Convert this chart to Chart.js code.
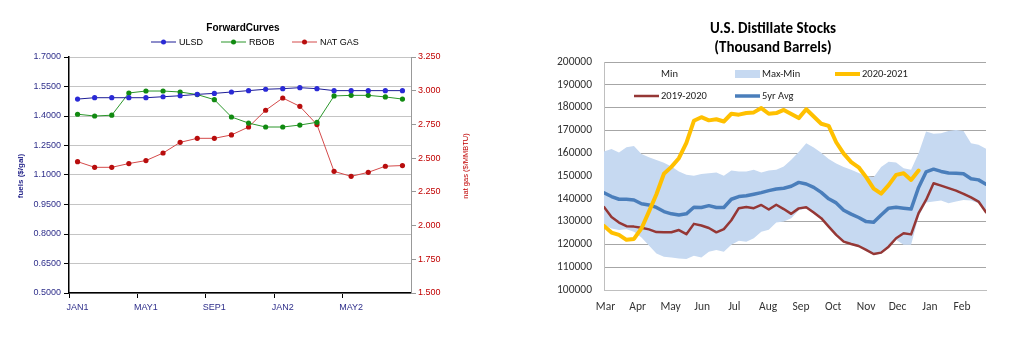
<!DOCTYPE html>
<html>
<head>
<meta charset="utf-8">
<script src="https://cdn.jsdelivr.net/npm/chart.js@4.4.0/dist/chart.umd.min.js"></script>
<style>
  body { margin: 0; background: #fff; }
  .wrap { position: absolute; top: 0; height: 340px; }
  #left { left: 0; width: 500px; }
  #right { left: 540px; width: 474px; }
</style>
</head>
<body>
<div class="wrap" id="left"><canvas id="forward-chart"></canvas></div>
<div class="wrap" id="right"><canvas id="stocks-chart"></canvas></div>
<script>
// forward curves, monthly contracts
const curveMonths = ["JAN1", "FEB1", "MAR1", "APR1", "MAY1", "JUN1", "JUL1", "AUG1", "SEP1", "OCT1",
    "NOV1", "DEC1", "JAN2", "FEB2", "MAR2", "APR2", "MAY2", "JUN2", "JUL2", "AUG2"];
const ulsd = [1.486, 1.493, 1.493, 1.493, 1.493, 1.498, 1.503, 1.510, 1.515, 1.522,
    1.529, 1.536, 1.539, 1.544, 1.539, 1.529, 1.529, 1.529, 1.529, 1.529];
const rbob = [1.409, 1.400, 1.404, 1.517, 1.527, 1.527, 1.522, 1.509, 1.483, 1.395,
    1.364, 1.344, 1.344, 1.354, 1.368, 1.502, 1.505, 1.505, 1.497, 1.486];
const natGas = [2.474, 2.432, 2.432, 2.460, 2.482, 2.538, 2.617, 2.647, 2.647, 2.672,
    2.731, 2.855, 2.946, 2.884, 2.749, 2.402, 2.365, 2.395, 2.440, 2.445];

// distillate stocks, weekly from March (thousand barrels)
const monthLabels = ["Mar", "Apr", "May", "Jun", "Jul", "Aug", "Sep", "Oct", "Nov", "Dec", "Jan", "Feb"];
const monthWeeks = [0.2, 4.5, 8.9, 13.1, 17.4, 21.9, 26.3, 30.6, 35.0, 39.2, 43.5, 47.8];
const stocks2021 = [128100, 125200, 124200, 122000, 122400, 127000, 134400, 142000, 151000, 154000,
    157800, 164500, 174200, 175800, 174400, 174900, 173900, 177300, 176900, 177600,
    177900, 179800, 177300, 177600, 179000, 177200, 175400, 179300, 176100, 172900,
    172000, 164800, 159800, 156100, 153800, 149500, 144500, 142300, 146000, 150500,
    151200, 148300, 152400];
const stocks2020 = [136400, 132000, 129600, 128000, 127800, 127300, 126600, 125400, 125300, 125300,
    126300, 124500, 129000, 128300, 127200, 125300, 126700, 130600, 135900, 136400,
    135900, 137300, 135300, 137400, 135500, 133400, 135800, 136300, 134000, 131500,
    127800, 124200, 121200, 120200, 119300, 117600, 115800, 116400, 119000, 122700,
    124900, 124400, 133700, 139500, 146800, 145800, 144700, 143600, 142200, 140600,
    138800, 134100];
const avg5yr = [142600, 141000, 139800, 139800, 139500, 137800, 137300, 136200, 134400, 133400,
    132900, 133400, 136300, 136200, 137000, 136200, 136200, 139800, 141000, 141300,
    142000, 142700, 143600, 144300, 144600, 145500, 147200, 146500, 145000, 142800,
    140000, 138200, 135000, 133300, 131800, 130000, 129700, 132900, 135900, 136300,
    135900, 135500, 145000, 151800, 153000, 152000, 151300, 151200, 151000, 148800,
    148300, 146400];
const rangeMax = [160800, 161800, 160300, 162600, 163200, 159700, 158200, 157000, 155800, 154200,
    152000, 150500, 150100, 150900, 151200, 151500, 150100, 152400, 152000, 152000,
    152700, 151500, 152400, 152700, 154200, 157100, 160500, 164400, 162500, 160200,
    157500, 155500, 154000, 152700, 151300, 150000, 149500, 154000, 156300, 155900,
    153400, 152700, 160000, 169500, 168500, 168700, 169700, 170200, 169700, 164400,
    163700, 162000];
const rangeMin = [128500, 127000, 126300, 126600, 125500, 123000, 119500, 116000, 114600, 114300,
    113800, 113600, 115000, 114300, 116800, 117500, 116800, 119800, 121600, 121200,
    122700, 125600, 126400, 129600, 130000, 131500, 135000, 135800, 133500, 131000,
    127300, 123700, 120700, 119700, 118800, 117100, 115300, 115900, 118500, 122000,
    119800, 119800, 132200, 138400, 138800, 139200, 138100, 138800, 139500, 139200,
    138000, 134000];

const arial = "'Liberation Sans', Arial, sans-serif";
const calib = "Carlito, Lato, sans-serif";

// title, legend and axis titles for the forward curves
const forwardDecor = {
    id: "forwardDecor",
    afterDraw(chart) {
        const ctx = chart.ctx;
        const legendX = [151, 221, 292];
        ctx.save();
        ctx.fillStyle = "#000";
        ctx.textBaseline = "middle";
        ctx.textAlign = "center";
        ctx.font = "bold 10px " + arial;
        ctx.fillText("ForwardCurves", 243, 28);

        ctx.font = "9px " + arial;
        ctx.textAlign = "left";
        chart.data.datasets.forEach((ds, i) => {
            const x = legendX[i];
            ctx.strokeStyle = ds.borderColor;
            ctx.lineWidth = 1;
            ctx.beginPath();
            ctx.moveTo(x, 42);
            ctx.lineTo(x + 25, 42);
            ctx.stroke();
            ctx.fillStyle = ds.pointBackgroundColor;
            ctx.beginPath();
            ctx.arc(x + 12.5, 42, 2.5, 0, Math.PI * 2);
            ctx.fill();
            ctx.fillStyle = "#000";
            ctx.fillText(ds.label, x + 28, 42.5);
        });

        ctx.save();
        ctx.translate(21, 176);
        ctx.rotate(-Math.PI / 2);
        ctx.textAlign = "center";
        ctx.fillStyle = "#26268a";
        ctx.font = "bold 8px " + arial;
        ctx.fillText("fuels ($/gal)", 0, 0);
        ctx.restore();

        ctx.save();
        ctx.translate(466, 166);
        ctx.rotate(-Math.PI / 2);
        ctx.textAlign = "center";
        ctx.fillStyle = "#c00000";
        ctx.font = "7.5px " + arial;
        ctx.fillText("nat gas ($/MMBTU)", 0, 0);
        ctx.restore();
        ctx.restore();
    }
};

// two-line title and in-plot legend for the stocks chart
const stocksDecor = {
    id: "stocksDecor",
    afterDraw(chart) {
        const ctx = chart.ctx;
        ctx.save();
        ctx.fillStyle = "#000";
        ctx.textBaseline = "middle";
        ctx.textAlign = "center";
        ctx.font = "bold 15px " + calib;
        ctx.fillText("U.S. Distillate Stocks", 233, 29);
        ctx.fillText("(Thousand Barrels)", 233, 48);

        const items = [
            { label: "Min", x: 94, y: 74, kind: "none" },
            { label: "Max-Min", x: 195, y: 74, kind: "box", color: "#c6d9f1" },
            { label: "2020-2021", x: 295, y: 74, kind: "line", color: "#ffc000", width: 4 },
            { label: "2019-2020", x: 94, y: 96, kind: "line", color: "#953735", width: 2.5 },
            { label: "5yr Avg", x: 195, y: 96, kind: "line", color: "#4a7ebb", width: 3.5 }
        ];
        ctx.font = "10.5px " + calib;
        ctx.textAlign = "left";
        items.forEach(it => {
            if (it.kind === "box") {
                ctx.fillStyle = it.color;
                ctx.fillRect(it.x, it.y - 4, 25, 8);
            } else if (it.kind === "line") {
                ctx.strokeStyle = it.color;
                ctx.lineWidth = it.width;
                ctx.beginPath();
                ctx.moveTo(it.x, it.y);
                ctx.lineTo(it.x + 25, it.y);
                ctx.stroke();
            }
            ctx.fillStyle = "#222";
            ctx.fillText(it.label, it.x + 27, it.y);
        });
        ctx.restore();
    }
};

function curveSet(label, data, axis, line, dot) {
    return {
        label: label, data: data, yAxisID: axis,
        borderColor: line, borderWidth: 1,
        pointBackgroundColor: dot, pointBorderWidth: 0, pointRadius: 2.6,
        tension: 0
    };
}

new Chart(document.getElementById("forward-chart"), {
    type: "line",
    data: {
        labels: curveMonths,
        datasets: [
            curveSet("ULSD", ulsd, "y", "#1c1c96", "#2a2ad6"),
            curveSet("RBOB", rbob, "y", "#2a962a", "#118a11"),
            curveSet("NAT GAS", natGas, "y1", "#d44a4a", "#b80d0d")
        ]
    },
    options: {
        responsive: true,
        maintainAspectRatio: false,
        animation: false,
        layout: { padding: { top: 57, left: 0, right: 0, bottom: 0 } },
        plugins: { legend: { display: false }, tooltip: { enabled: false } },
        scales: {
            x: {
                type: "category",
                offset: true,
                grid: {
                    offset: true,
                    drawOnChartArea: false,
                    tickLength: 5,
                    color: ctx => ctx.index % 4 === 0 ? "#000" : "rgba(0,0,0,0)"
                },
                border: { color: "#000", width: 1.5 },
                ticks: {
                    autoSkip: false, maxRotation: 0, padding: 4,
                    color: "#2e2e8a", font: { family: arial, size: 9 },
                    callback: function (v, i) { return i % 4 === 0 ? this.getLabelForValue(v) : ""; }
                },
                afterFit: s => { s.height = 47; }
            },
            y: {
                position: "left",
                min: 0.5, max: 1.7,
                ticks: {
                    stepSize: 0.15, padding: 3,
                    color: "#2e2e8a", font: { family: arial, size: 9 },
                    callback: v => v.toFixed(4)
                },
                grid: { color: "#c4c4c4", tickColor: "#000", tickLength: 5 },
                border: { color: "#000", width: 1.5 },
                afterFit: s => { s.width = 69; }
            },
            y1: {
                position: "right",
                min: 1.5, max: 3.25,
                ticks: {
                    stepSize: 0.25, padding: 2,
                    color: "#c00000", font: { family: arial, size: 9 },
                    callback: v => v.toFixed(3)
                },
                grid: { drawOnChartArea: false, tickColor: "#999", tickLength: 5 },
                border: { color: "#999", width: 1 },
                afterFit: s => { s.width = 89; }
            }
        }
    },
    plugins: [forwardDecor]
});

const pts = arr => arr.map((v, i) => ({ x: i, y: v }));

new Chart(document.getElementById("stocks-chart"), {
    type: "line",
    data: {
        datasets: [
            { label: "2020-2021", data: pts(stocks2021), borderColor: "#ffc000", borderWidth: 4 },
            { label: "5yr Avg", data: pts(avg5yr), borderColor: "#4a7ebb", borderWidth: 3.5 },
            { label: "2019-2020", data: pts(stocks2020), borderColor: "#953735", borderWidth: 2.5 },
            { label: "Max-Min", data: pts(rangeMax), borderColor: "rgba(0,0,0,0)", borderWidth: 0,
              backgroundColor: "#c6d9f1", fill: "+1" },
            { label: "Min", data: pts(rangeMin), borderColor: "rgba(0,0,0,0)", borderWidth: 0 }
        ]
    },
    options: {
        responsive: true,
        maintainAspectRatio: false,
        animation: false,
        elements: {
            point: { radius: 0 },
            line: { tension: 0, borderJoinStyle: "round", borderCapStyle: "round" }
        },
        layout: { padding: { top: 62, left: 0, right: 28, bottom: 0 } },
        plugins: { legend: { display: false }, tooltip: { enabled: false } },
        scales: {
            x: {
                type: "linear",
                min: 0, max: 51,
                grid: { display: false, drawTicks: false },
                border: { color: "#bfbfbf", width: 1 },
                afterBuildTicks: s => { s.ticks = monthWeeks.map(v => ({ value: v })); },
                ticks: {
                    padding: 10, maxRotation: 0, autoSkip: false,
                    color: "#333", font: { family: calib, size: 11.5 },
                    callback: (v, i) => monthLabels[i]
                },
                afterFit: s => { s.height = 50; }
            },
            y: {
                min: 100000, max: 200000,
                ticks: {
                    stepSize: 10000, padding: 12,
                    color: "#333", font: { family: calib, size: 11.5 },
                    callback: v => String(v)
                },
                grid: { color: "#a6a6a6", drawTicks: false },
                border: { color: "#bfbfbf", width: 1 },
                afterFit: s => { s.width = 64; }
            }
        }
    },
    plugins: [stocksDecor]
});
</script>
</body>
</html>
